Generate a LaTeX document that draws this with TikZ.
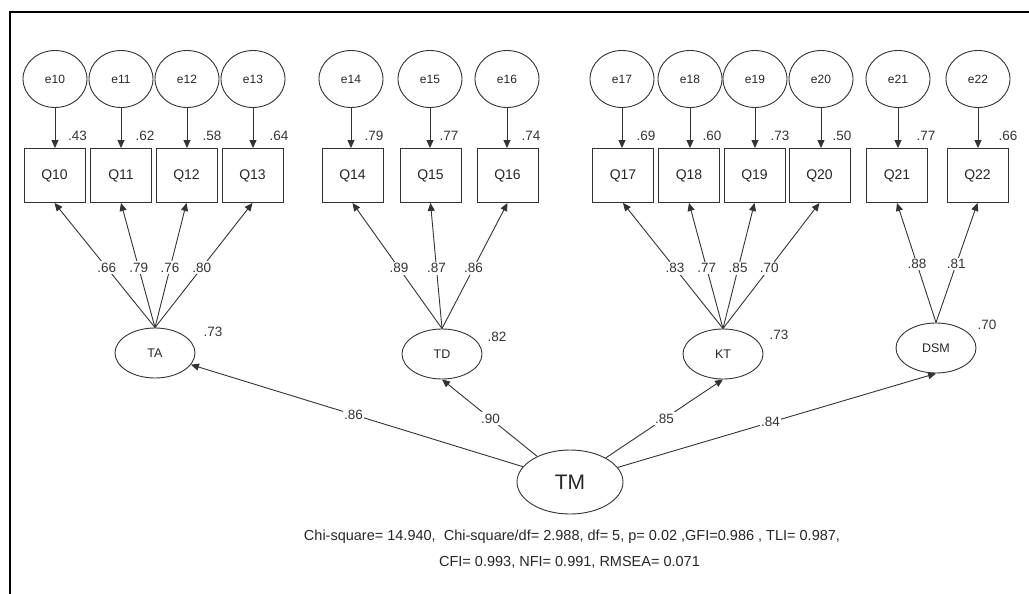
\documentclass[tikz,border=0pt]{standalone}
\usepackage{fontspec}
\setmainfont{Liberation Sans}
\usetikzlibrary{arrows.meta,shapes.geometric,calc}
\begin{document}
\begin{tikzpicture}[x=1pt,y=-1pt,
  ln/.style={draw=black!80, line width=0.9pt},
  arr/.style={ln, -{Triangle[length=8pt,width=7pt]}},
  errnode/.style={ellipse, draw=black!80, line width=0.9pt, minimum width=64pt, minimum height=57pt, inner sep=0pt, font=\fontsize{12}{14}\selectfont, text=black!85},
  obsnode/.style={rectangle, draw=black!80, line width=0.9pt, minimum width=61pt, minimum height=54pt, inner sep=0pt, font=\fontsize{14}{16}\selectfont, text=black!85},
  latnode/.style={ellipse, draw=black!80, line width=0.9pt, minimum width=80pt, minimum height=50pt, inner sep=0pt, font=\fontsize{12.5}{14}\selectfont, text=black!85},
  coef/.style={fill=white, inner sep=1.5pt, font=\fontsize{13.5}{15}\selectfont, text=black!80},
  rlab/.style={inner sep=0pt, font=\fontsize{13.5}{15}\selectfont, text=black!80},
  stats/.style={inner sep=0pt, font=\fontsize{14.5}{16}\selectfont, text=black!85}
]
\useasboundingbox (0,0) rectangle (1029,594);
\draw[line width=2pt] (1029,12) -- (10,12) -- (10,594);

% error terms, observed variables
\foreach \n/\ex/\qx/\r/\rx in {10/55/54.5/.43/23, 11/121/121/.62/24, 12/187/186.5/.58/25.5, 13/253/252.5/.64/26.5,
  14/351/352.5/.79/21.5, 15/430/430.5/.77/18.5, 16/507/507.5/.74/23.5,
  17/622/623/.69/23, 18/690/689/.60/23, 19/755/754.5/.73/25.5, 20/821/819.5/.50/22.5,
  21/898/897/.77/29, 22/978/977.5/.66/30.5}{
  \node[errnode] (e\n) at (\ex,79) {e\n};
  \node[obsnode] (Q\n) at (\qx,175.5) {Q\n};
  \draw[arr] (e\n.south) -- (e\n.south |- Q\n.north);
  \node[rlab] (r\n) at ($(Q\n.north)+(\rx,-12.5)$) {\r};
}

% latent variables
\node[latnode] (TA) at (155,353) {TA};
\node[latnode] (TD) at (442,354) {TD};
\node[latnode] (KT) at (723,354) {KT};
\node[latnode] (DSM) at (936,348) {DSM};
\node[latnode, minimum width=106pt, minimum height=64pt, font=\fontsize{21}{24}\selectfont] (TM) at (570,482) {TM};

\node[rlab] (rTA) at (213,332) {.73};
\node[rlab] (rTD) at (497,337) {.82};
\node[rlab] (rKT) at (779,335) {.73};
\node[rlab] (rDSM) at (987,325) {.70};

% loadings
\foreach \q/\c in {10/.66, 11/.79, 12/.76, 13/.80}
  \draw[arr] (TA.north) -- node[coef,pos=0.48] (c\q) {\c} (Q\q.south);
\foreach \q/\c in {14/.89, 15/.87, 16/.86}
  \draw[arr] (TD.north) -- node[coef,pos=0.48] (c\q) {\c} (Q\q.south);
\foreach \q/\c in {17/.83, 18/.77, 19/.85, 20/.70}
  \draw[arr] (KT.north) -- node[coef,pos=0.48] (c\q) {\c} (Q\q.south);
\foreach \q/\c in {21/.88, 22/.81}
  \draw[arr] (DSM.north) -- node[coef,pos=0.49] (c\q) {\c} (Q\q.south);

% second-order paths
\draw[arr] (TM.162) -- node[coef,pos=0.51] (cTA) {.86} (TA.-18);
\draw[arr] (TM.142) -- node[coef,pos=0.49] (cTD) {.90} (TD.south);
\draw[arr] (TM.34) -- node[coef,pos=0.5] (cKT) {.85} (KT.south);
\draw[arr] (TM.17) -- node[coef,pos=0.48] (cDSM) {.84} (DSM.south);

% fit statistics
\node[stats] (fit1) at (572,537) {Chi-square= 14.940,\ \ Chi-square/df= 2.988, df= 5, p= 0.02 ,GFI=0.986 , TLI= 0.987,};
\node[stats] (fit2) at (569.5,562) {CFI= 0.993, NFI= 0.991, RMSEA= 0.071};
\end{tikzpicture}
\end{document}
